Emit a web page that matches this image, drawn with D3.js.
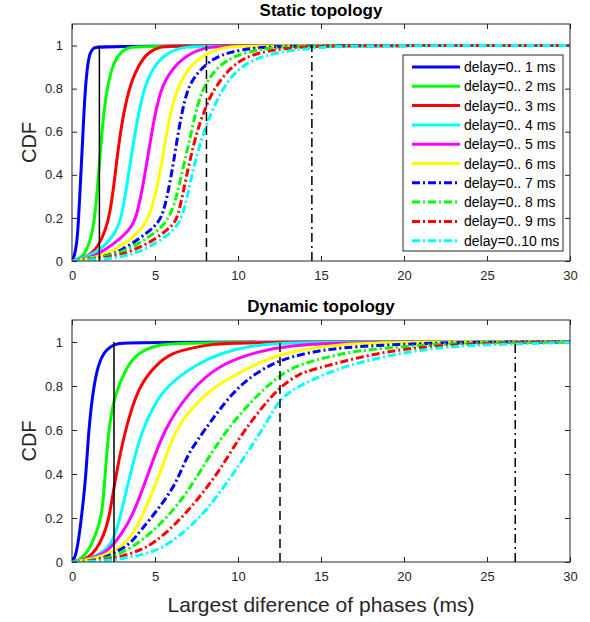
<!DOCTYPE html>
<html>
<head>
<meta charset="utf-8">
<script src="https://cdn.jsdelivr.net/npm/d3@7"></script>
<style>
  body { margin: 0; background: #fff; }
  svg { font-family: "Liberation Sans", Arial, sans-serif; }
  .tick text { fill: #262626; font-size: 13px; }
  .domain { display: none; }
  .tick line { stroke: #262626; }
</style>
</head>
<body>
<div id="chart"></div>
<script>
// legend labels, one per delay range
const labels = [
  'delay=0.. 1 ms', 'delay=0.. 2 ms', 'delay=0.. 3 ms', 'delay=0.. 4 ms', 'delay=0.. 5 ms',
  'delay=0.. 6 ms', 'delay=0.. 7 ms', 'delay=0.. 8 ms', 'delay=0.. 9 ms', 'delay=0..10 ms'
];
const colors = ['#0000ff', '#00ff00', '#ff0000', '#00ffff', '#ff00ff', '#ffff00',
  '#0000ff', '#00ff00', '#ff0000', '#00ffff'];
const xTicks = [0, 5, 10, 15, 20, 25, 30];
const yTicks = [0, 0.2, 0.4, 0.6, 0.8, 1];

// static topology: [ms, cdf] points
const staticSeries = [
  [[0,0],[0.1,0.01],[0.3,0.08],[0.4,0.2],[0.5,0.35],[0.6,0.5],[0.7,0.66],[0.8,0.8],[0.95,0.92],[1.1,0.97],[1.3,0.99],[1.6,1],[30,1]],
  [[0,0],[0.5,0.01],[0.9,0.05],[1.2,0.12],[1.4,0.22],[1.6,0.4],[1.8,0.6],[2.05,0.78],[2.4,0.9],[2.8,0.96],[3.3,0.99],[4,1],[30,1]],
  [[0,0],[1,0.02],[1.6,0.07],[2.0,0.14],[2.3,0.22],[2.6,0.4],[2.9,0.6],[3.4,0.8],[4.0,0.91],[4.6,0.97],[5.3,0.995],[6,1],[30,1]],
  [[0,0],[1,0.02],[2,0.07],[2.6,0.13],[3.0,0.2],[3.4,0.4],[3.8,0.6],[4.3,0.8],[4.9,0.9],[5.6,0.96],[6.5,0.99],[7.5,1],[30,1]],
  [[0,0],[1,0.01],[2,0.05],[3,0.11],[3.5,0.15],[3.9,0.2],[4.4,0.4],[4.8,0.6],[5.3,0.8],[6.1,0.9],[7,0.96],[8,0.99],[9,1],[30,1]],
  [[0,0],[1,0.01],[2,0.03],[3,0.07],[4,0.13],[4.7,0.2],[5.3,0.4],[5.7,0.6],[6.2,0.78],[7.0,0.9],[8,0.96],[9,0.99],[10,1],[30,1]],
  [[0,0],[1,0.01],[2,0.02],[3,0.05],[4,0.1],[5,0.16],[5.5,0.21],[6,0.4],[6.4,0.6],[6.9,0.8],[7.6,0.88],[8.5,0.94],[9.5,0.97],[11,0.99],[13,1],[30,1]],
  [[0,0],[1,0.01],[2,0.02],[3,0.04],[4,0.08],[5,0.13],[6,0.2],[6.6,0.4],[7.2,0.6],[7.7,0.78],[8.6,0.89],[9.5,0.94],[10.5,0.97],[12,0.99],[14,1],[30,1]],
  [[0,0],[1,0.005],[2,0.015],[3,0.03],[4,0.06],[5,0.1],[6,0.16],[6.4,0.2],[6.9,0.4],[7.5,0.6],[8.0,0.7],[8.4,0.78],[9.4,0.89],[10.5,0.95],[12,0.98],[14,0.995],[16,1],[30,1]],
  [[0,0],[1,0.005],[2,0.01],[3,0.02],[4,0.04],[5,0.08],[6,0.13],[6.7,0.2],[7.2,0.4],[7.9,0.6],[8.9,0.78],[9.8,0.88],[11,0.94],[12.5,0.97],[14.5,0.99],[17,1],[30,1]]
];

// dynamic topology
const dynamicSeries = [
  [[0,0],[0.2,0.02],[0.4,0.1],[0.6,0.22],[0.85,0.4],[1.0,0.6],[1.3,0.8],[1.6,0.9],[1.9,0.95],[2.3,0.98],[2.8,0.995],[3.5,1],[30,1]],
  [[0,0],[0.5,0.01],[1.0,0.05],[1.4,0.12],[1.8,0.2],[2.0,0.4],[2.2,0.6],[2.5,0.73],[2.8,0.8],[3.4,0.9],[4.0,0.95],[5.0,0.985],[6.5,1],[30,1]],
  [[0,0],[0.5,0.005],[1,0.02],[1.5,0.06],[1.9,0.12],[2.25,0.2],[2.65,0.4],[3.2,0.6],[4.0,0.8],[5.1,0.9],[6,0.95],[7.3,0.975],[8.5,0.99],[10,1],[30,1]],
  [[0,0],[1,0.01],[2,0.05],[2.5,0.1],[2.9,0.2],[3.5,0.4],[4.2,0.6],[5.0,0.72],[5.7,0.8],[7.5,0.9],[9,0.95],[10.5,0.98],[12.5,0.995],[15,1],[30,1]],
  [[0,0],[1,0.01],[2,0.04],[2.5,0.08],[3,0.13],[3.6,0.2],[4.6,0.4],[5.5,0.6],[7.1,0.78],[8.9,0.9],[11.3,0.96],[13.3,0.985],[16,0.995],[19,1],[30,1]],
  [[0,0],[1,0.01],[2,0.03],[3,0.07],[3.6,0.12],[4.2,0.2],[5.3,0.4],[6.2,0.6],[7.2,0.7],[8.6,0.8],[10.1,0.86],[11.3,0.91],[13.3,0.96],[16,0.99],[20,1],[30,1]],
  [[0,0],[1,0.005],[2,0.02],[2.5,0.04],[3.5,0.08],[4.1,0.14],[5.3,0.25],[6.3,0.36],[6.9,0.48],[7.7,0.57],[9.7,0.78],[11.3,0.87],[12.5,0.917],[14.1,0.95],[16.1,0.975],[19.8,0.99],[24,1],[30,1]],
  [[0,0],[1,0.005],[2,0.015],[3,0.04],[4.3,0.1],[5.7,0.2],[6.9,0.31],[8.1,0.46],[9.3,0.6],[10.9,0.74],[12.5,0.85],[13.7,0.9],[16.1,0.945],[17.7,0.965],[21.7,0.99],[26,1],[30,1]],
  [[0,0],[1,0.003],[2,0.01],[3,0.025],[4,0.05],[4.9,0.083],[6.3,0.175],[7.7,0.295],[8.9,0.417],[10.1,0.568],[11.3,0.69],[12.5,0.795],[13.7,0.856],[14.5,0.875],[17.7,0.94],[20.8,0.977],[23.8,0.99],[28,1],[30,1]],
  [[0,0],[1,0.002],[2,0.006],[3,0.015],[4,0.03],[5.3,0.053],[6.9,0.144],[8.1,0.235],[9.3,0.356],[10.5,0.49],[11.7,0.63],[12.5,0.743],[13.7,0.803],[15.7,0.87],[17.7,0.917],[21.7,0.977],[25.8,0.99],[30,0.998]]
];

// black vertical marker lines (ms)
const staticMarks = [1.65, 8.1, 14.45];
const dynamicMarks = [2.53, 12.53, 26.7];
const markDash = [null, '9,5', '9,4,2,4'];

const width = 590, height = 622;
const svg = d3.select('#chart').append('svg')
  .attr('width', width)
  .attr('height', height);

const x = d3.scaleLinear().domain([0, 30]).range([72, 570]);

function drawPanel(top, bottom, title, series, marks, withLegend, id) {
  const y = d3.scaleLinear().domain([0, 1.1]).range([bottom, top]);
  const g = svg.append('g');

  g.append('clipPath').attr('id', id)
    .append('rect')
    .attr('x', 72).attr('y', top)
    .attr('width', 498).attr('height', bottom - top);

  // axes with inward ticks on all four sides
  g.append('g')
    .attr('transform', `translate(0,${bottom})`)
    .call(d3.axisBottom(x).tickValues(xTicks).tickSize(-5).tickPadding(10).tickFormat(d3.format('d')));
  g.append('g')
    .attr('transform', `translate(0,${top})`)
    .call(d3.axisTop(x).tickValues(xTicks).tickSize(-5).tickFormat(''));
  g.append('g')
    .attr('transform', 'translate(72,0)')
    .call(d3.axisLeft(y).tickValues(yTicks).tickSize(-5).tickPadding(9).tickFormat(d => d === 0 || d === 1 ? d : d3.format('.1f')(d)));
  g.append('g')
    .attr('transform', 'translate(570,0)')
    .call(d3.axisRight(y).tickValues(yTicks).tickSize(-5).tickFormat(''));

  const line = d3.line()
    .x(d => x(d[0]))
    .y(d => y(d[1]))
    .curve(d3.curveBasis);

  const plot = g.append('g').attr('clip-path', `url(#${id})`);

  series.forEach((s, i) => {
    plot.append('path')
      .datum(s)
      .attr('d', line)
      .attr('fill', 'none')
      .attr('stroke', colors[i])
      .attr('stroke-width', 3)
      .attr('stroke-dasharray', i >= 6 ? '8,3,2,3' : null);
  });

  marks.forEach((m, i) => {
    plot.append('line')
      .attr('x1', x(m)).attr('x2', x(m))
      .attr('y1', y(0)).attr('y2', y(1))
      .attr('stroke', '#000')
      .attr('stroke-width', 1.5)
      .attr('stroke-dasharray', markDash[i]);
  });

  g.append('rect')
    .attr('x', 72).attr('y', top)
    .attr('width', 498).attr('height', bottom - top)
    .attr('fill', 'none')
    .attr('stroke', '#262626')
    .attr('stroke-width', 1);

  g.append('text')
    .attr('x', 321).attr('y', top - 8)
    .attr('text-anchor', 'middle')
    .attr('font-weight', 'bold')
    .attr('font-size', 17)
    .attr('fill', '#000')
    .text(title);

  g.append('text')
    .attr('transform', `translate(36,${(top + bottom) / 2}) rotate(-90)`)
    .attr('text-anchor', 'middle')
    .attr('font-size', 20)
    .attr('fill', '#262626')
    .text('CDF');

  if (withLegend) {
    const lg = g.append('g').attr('transform', 'translate(403,55)');
    lg.append('rect')
      .attr('width', 160).attr('height', 196)
      .attr('fill', '#fff')
      .attr('stroke', '#262626');
    labels.forEach((l, i) => {
      const yy = 12 + i * 19.3;
      lg.append('line')
        .attr('x1', 9).attr('x2', 57)
        .attr('y1', yy).attr('y2', yy)
        .attr('stroke', colors[i])
        .attr('stroke-width', 3)
        .attr('stroke-dasharray', i >= 6 ? '8,3,2,3' : null);
      lg.append('text')
        .attr('x', 61).attr('y', yy + 5)
        .attr('font-size', 14)
        .attr('fill', '#000')
        .text(l);
    });
  }
}

drawPanel(24, 261, 'Static topology', staticSeries, staticMarks, true, 'clipTop');
drawPanel(320, 562, 'Dynamic topology', dynamicSeries, dynamicMarks, false, 'clipBottom');

svg.append('text')
  .attr('x', 321).attr('y', 612)
  .attr('text-anchor', 'middle')
  .attr('font-size', 21)
  .attr('fill', '#262626')
  .text('Largest diference of phases (ms)');
</script>
</body>
</html>
